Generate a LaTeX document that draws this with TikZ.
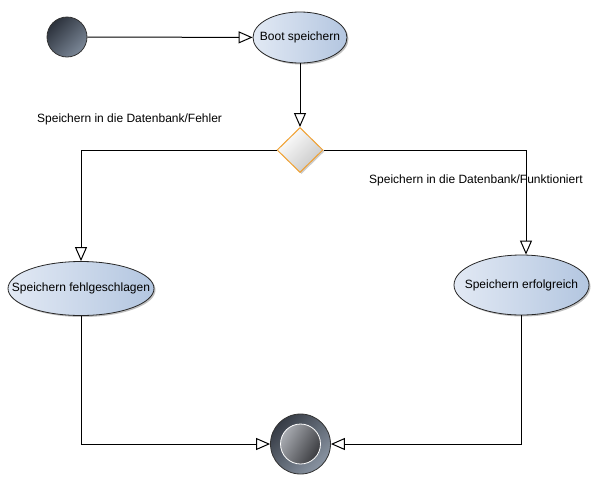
\documentclass[tikz,border=0pt]{standalone}
\usepackage{fontspec}
\setmainfont{Liberation Sans}
\usetikzlibrary{arrows.meta,shapes.geometric,shadows,calc}
\definecolor{ellL}{HTML}{E2E9F4}
\definecolor{ellR}{HTML}{B3C6E0}
\definecolor{darkA}{HTML}{2C323C}
\definecolor{darkB}{HTML}{7C8898}
\definecolor{innA}{HTML}{A8ABB1}
\definecolor{innB}{HTML}{3A3B3F}
\definecolor{decor}{HTML}{F0A030}
\begin{document}
\begin{tikzpicture}[x=1pt,y=-1pt,
  every node/.style={font=\fontsize{12}{14}\selectfont},
  state/.style={ellipse, draw=black!85, line width=0.8pt, inner sep=0pt,
    left color=ellL, right color=ellR,
    drop shadow={shadow xshift=1.5pt, shadow yshift=-1.5pt, opacity=0.25, fill=black}},
  stxt/.style={inner sep=0pt, text=black},
  flow/.style={draw=black, line width=1pt, -{Triangle[open,length=14pt,width=12pt]}},
  lbl/.style={anchor=west, inner sep=0pt}
]
\useasboundingbox (0,0) rectangle (616,488);
% start
\node[circle, draw=black!80, line width=0.8pt, minimum size=40pt, inner sep=0pt,
  left color=darkA, right color=darkB, shading angle=45] (start) at (67,37) {};
% boot
\node[state, minimum width=94pt, minimum height=51pt,
  label={[stxt]center:Boot speichern}] (boot) at (300,37.5) {};
% decision
\node[diamond, aspect=1, draw=decor, line width=1pt, minimum width=46pt, minimum height=45pt, inner sep=0pt,
  left color=white, right color=black!22, shading angle=45,
  drop shadow={shadow xshift=1.5pt, shadow yshift=-1.5pt, opacity=0.2, fill=black}] (dec) at (300,150) {};
% outcomes
\node[state, minimum width=146pt, minimum height=54pt,
  label={[stxt]center:Speichern fehlgeschlagen}] (fail) at (81,288.5) {};
\node[state, minimum width=135pt, minimum height=60pt,
  label={[stxt]center:Speichern erfolgreich}] (ok) at (521.5,285) {};
% end
\node[circle, draw=black!80, line width=0.8pt, minimum size=60pt, inner sep=0pt,
  left color=darkA!95, right color=darkB!90, shading angle=45] (end) at (300.5,444) {};
\node[circle, draw=white, line width=0.8pt, minimum size=40pt, inner sep=0pt,
  left color=innA, right color=innB, shading angle=60] (endin) at (end.center) {};
% labels
\node[lbl] (lf) at (37,119) {Speichern in die Datenbank/Fehler};
\node[lbl] (lo) at (369,180.5) {Speichern in die Datenbank/Funktioniert};
% connectors
\draw[flow] (start) -- (boot);
\draw[flow] (boot) -- (dec);
\draw[flow] (dec.west) -| (fail.north);
\draw[flow] (dec.east) -| ([xshift=4.5pt]ok.north);
\draw[flow] (fail.south) |- (end.west);
\draw[flow] (ok.south) |- (end.east);
\end{tikzpicture}
\end{document}
